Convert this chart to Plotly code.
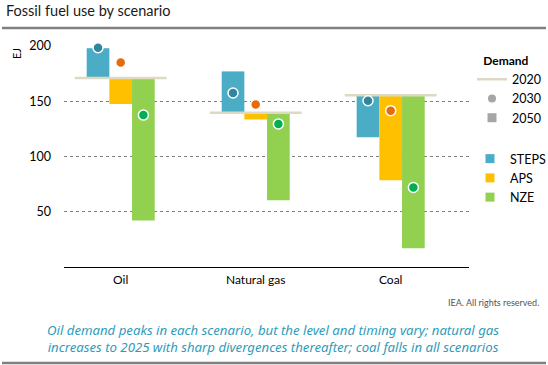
import plotly.graph_objects as go

# ---------------- data ----------------
categories = ["Oil", "Natural gas", "Coal"]
demand_2020 = [171, 139.5, 155.5]
scenarios = ["STEPS", "APS", "NZE"]
demand_2030 = {"STEPS": [198.5, 157.5, 150.5], "APS": [185, 147, 141.5], "NZE": [137.5, 129.5, 72]}
demand_2050 = {"STEPS": [198, 177, 117.5], "APS": [147.5, 133.5, 78.5], "NZE": [42, 60.5, 17]}
y_ticks = [50, 100, 150, 200]

# ---------------- styles ----------------
bar_colors = {"STEPS": "#4BACC6", "APS": "#FFC000", "NZE": "#92D050"}
dot_colors = {"STEPS": "#31859C", "APS": "#E46C0A", "NZE": "#00B050"}
line_2020 = "#DDD9C3"
grey_leg = "#A6A6A6"
FONT = "Lato"
W, H = 548, 365
L, R, T, B = 64, 79, 46, 98
PW, PH = W - L - R, H - T - B
BAR_W = 0.168
HALF_LINE = 0.34


def px(x):
    return (x - L) / PW


def py(y):
    return (H - B - y) / PH


fig = go.Figure()
xi = list(range(len(categories)))

for k, s in enumerate(scenarios):
    off = (k - 1) * BAR_W
    xs = [i + off for i in xi]
    fig.add_trace(go.Bar(
        x=xs, base=demand_2020,
        y=[v - b for v, b in zip(demand_2050[s], demand_2020)],
        width=BAR_W, marker=dict(color=bar_colors[s], line=dict(width=0)),
        showlegend=False, hoverinfo="skip"))

# 2020 lines
lx, ly = [], []
for i, v in zip(xi, demand_2020):
    lx += [i - HALF_LINE, i + HALF_LINE, None]
    ly += [v, v, None]
fig.add_trace(go.Scatter(x=lx, y=ly, mode="lines", line=dict(color=line_2020, width=2.5),
                         showlegend=False, hoverinfo="skip", cliponaxis=False))

# 2030 dots
for k, s in enumerate(scenarios):
    off = (k - 1) * BAR_W
    fig.add_trace(go.Scatter(
        x=[i + off for i in xi], y=demand_2030[s], mode="markers",
        marker=dict(color=dot_colors[s], size=10, line=dict(color="white", width=1.5)),
        showlegend=False, cliponaxis=False, hoverinfo="skip"))

# legend entries
fig.add_trace(go.Scatter(x=[None], y=[None], mode="lines", name="2020",
                         line=dict(color=line_2020, width=2.5), legend="legend"))
fig.add_trace(go.Scatter(x=[None], y=[None], mode="markers", name="2030",
                         marker=dict(color=grey_leg, size=8, symbol="circle"), legend="legend"))
fig.add_trace(go.Scatter(x=[None], y=[None], mode="markers", name="2050",
                         marker=dict(color=grey_leg, size=9, symbol="square"), legend="legend"))
for s in scenarios:
    fig.add_trace(go.Scatter(x=[None], y=[None], mode="markers", name=s,
                             marker=dict(color=bar_colors[s], size=9, symbol="square"),
                             legend="legend2"))

fig.update_layout(
    width=W, height=H, margin=dict(l=L, r=R, t=T, b=B, autoexpand=False),
    paper_bgcolor="white", plot_bgcolor="white",
    font=dict(family=FONT, size=12, color="black"),
    barmode="overlay", showlegend=True,
    legend=dict(x=px(472), y=py(49), xanchor="left", yanchor="top",
                title=dict(text="&nbsp;&nbsp;&nbsp;<b>Demand</b>", font=dict(size=12)),
                itemwidth=30, font=dict(size=12.5), bgcolor="rgba(0,0,0,0)"),
    legend2=dict(x=px(470), y=py(144), xanchor="left", yanchor="top",
                 itemwidth=30, font=dict(size=12.5), bgcolor="rgba(0,0,0,0)"),
    xaxis=dict(range=[-0.42, 2.58], tickvals=xi, ticktext=categories, showgrid=False,
               zeroline=False, showline=True, linecolor="black", linewidth=1,
               ticks="", ticklabelstandoff=2, fixedrange=True),
    yaxis=dict(range=[0, 200], tickvals=y_ticks, showgrid=True, gridcolor="#7F7F7F",
               griddash="dot", gridwidth=1, zeroline=False, showline=False, ticks="",
               ticklabelstandoff=12, fixedrange=True, tickfont=dict(size=12.5)),
)

annotations = [
    dict(text="Fossil fuel use by scenario", x=px(4), y=py(11), xanchor="left", yanchor="middle",
         font=dict(size=14.5, color="#1A1A1A", family=FONT), showarrow=False),
    dict(text="EJ", x=px(16), y=py(54), textangle=-90, xanchor="center", yanchor="middle",
         font=dict(size=11, color="black"), showarrow=False),
    dict(text="IEA. All rights reserved.", x=px(541), y=py(302), xanchor="right", yanchor="middle",
         font=dict(size=9, color="#555555"), showarrow=False),
    dict(text="<i>Oil demand peaks in each scenario, but the level and timing vary; natural gas<br>"
              "increases to 2025 with sharp divergences thereafter; coal falls in all scenarios</i>",
         x=px(273), y=py(338), xanchor="center", yanchor="middle", align="center",
         font=dict(size=13.2, color="#2F9BBA", family="Noto Sans"), showarrow=False),
]
for a in annotations:
    a.update(xref="paper", yref="paper")
fig.update_layout(annotations=annotations)

for yy in (28, 363):
    fig.add_shape(type="line", xref="paper", yref="paper", x0=px(2), x1=px(546),
                  y0=py(yy), y1=py(yy), line=dict(color="#808080", width=2.5))

fig.write_html("out.html", config={"displayModeBar": False},
               post_script="document.body.style.margin='0';")
